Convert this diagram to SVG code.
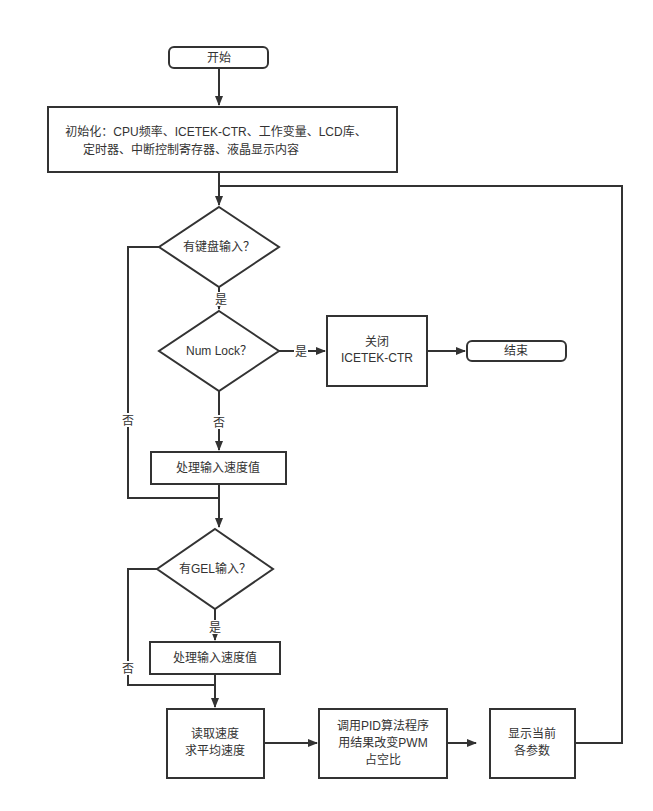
<svg xmlns="http://www.w3.org/2000/svg" width="653" height="811" viewBox="0 0 653 811">
<style>
.n{fill:#fff;stroke:#333;stroke-width:2}
.t{font-family:"Liberation Sans","Noto Sans CJK SC",sans-serif;font-size:12px;fill:#333;text-anchor:middle}
.c{fill:none;stroke:#333;stroke-width:2}
.l{font-family:"Liberation Sans","Noto Sans CJK SC",sans-serif;font-size:12px;fill:#333;text-anchor:middle}
</style>
<defs><marker id="a" markerWidth="10" markerHeight="8" refX="9" refY="4" orient="auto" markerUnits="userSpaceOnUse"><path d="M0,0L10,4L0,8z" fill="#333"/></marker></defs>
<rect width="653" height="811" fill="#fff"/>
<g id="connectors">
<path class="c" d="M219,68V105" marker-end="url(#a)"/>
<path class="c" d="M219,172V205" marker-end="url(#a)"/>
<path class="c" d="M575,743H622V186H219"/>
<path class="c" d="M219,287V309" marker-end="url(#a)"/>
<path class="c" d="M279,351H325" marker-end="url(#a)"/>
<path class="c" d="M427,351H465" marker-end="url(#a)"/>
<path class="c" d="M219,391V450" marker-end="url(#a)"/>
<path class="c" d="M219,484V498"/>
<path class="c" d="M159,247H128V498H219V527" marker-end="url(#a)"/>
<path class="c" d="M215,609V640" marker-end="url(#a)"/>
<path class="c" d="M215,674V707" marker-end="url(#a)"/>
<path class="c" d="M157,569H128V685H215"/>
<path class="c" d="M264,743H317" marker-end="url(#a)"/>
<path class="c" d="M447,743H476" marker-end="url(#a)"/>
<rect x="211" y="292" width="16" height="14" fill="#fff"/><text class="l" x="221" y="304">是</text>
<rect x="294" y="344" width="14" height="14" fill="#fff"/><text class="l" x="301" y="356">是</text>
<rect x="212" y="415" width="14" height="14" fill="#fff"/><text class="l" x="219" y="427">否</text>
<rect x="121" y="413" width="14" height="14" fill="#fff"/><text class="l" x="128" y="425">否</text>
<rect x="208" y="620" width="14" height="14" fill="#fff"/><text class="l" x="215" y="632">是</text>
<rect x="121" y="661" width="14" height="14" fill="#fff"/><text class="l" x="128" y="673">否</text>
</g>
<g id="start"><rect class="n" x="169" y="47" width="99" height="21" rx="5"/><text class="t" x="219" y="62">开始</text></g>
<g id="init"><rect class="n" x="48" y="107" width="349" height="65"/><text class="t" x="216" y="136">初始化：CPU频率、ICETEK-CTR、工作变量、LCD库、</text><text class="t" x="191" y="154">定时器、中断控制寄存器、液晶显示内容</text></g>
<g id="d1"><path class="n" d="M219,207L279,247L219,287L159,247z"/><text class="t" x="219" y="251">有键盘输入？</text></g>
<g id="d2"><path class="n" d="M219,311L279,351L219,391L159,351z"/><text class="t" x="219" y="355">Num Lock？</text></g>
<g id="close"><rect class="n" x="327" y="316" width="100" height="70"/><text class="t" x="377" y="346">关闭</text><text class="t" x="377" y="362">ICETEK-CTR</text></g>
<g id="end"><rect class="n" x="467" y="341" width="99" height="20" rx="5"/><text class="t" x="516" y="355">结束</text></g>
<g id="proc1"><rect class="n" x="151" y="452" width="135" height="32"/><text class="t" x="218" y="472">处理输入速度值</text></g>
<g id="d3"><path class="n" d="M215,529L273,569L215,609L157,569z"/><text class="t" x="215" y="573">有GEL输入？</text></g>
<g id="proc2"><rect class="n" x="150" y="642" width="130" height="32"/><text class="t" x="215" y="662">处理输入速度值</text></g>
<g id="read"><rect class="n" x="167" y="709" width="97" height="69"/><text class="t" x="215" y="738">读取速度</text><text class="t" x="215" y="755">求平均速度</text></g>
<g id="pid"><rect class="n" x="319" y="709" width="128" height="69"/><text class="t" x="383" y="730">调用PID算法程序</text><text class="t" x="383" y="747">用结果改变PWM</text><text class="t" x="383" y="764">占空比</text></g>
<g id="disp"><rect class="n" x="490" y="709" width="85" height="69"/><text class="t" x="532" y="738">显示当前</text><text class="t" x="532" y="755">各参数</text></g>
</svg>
